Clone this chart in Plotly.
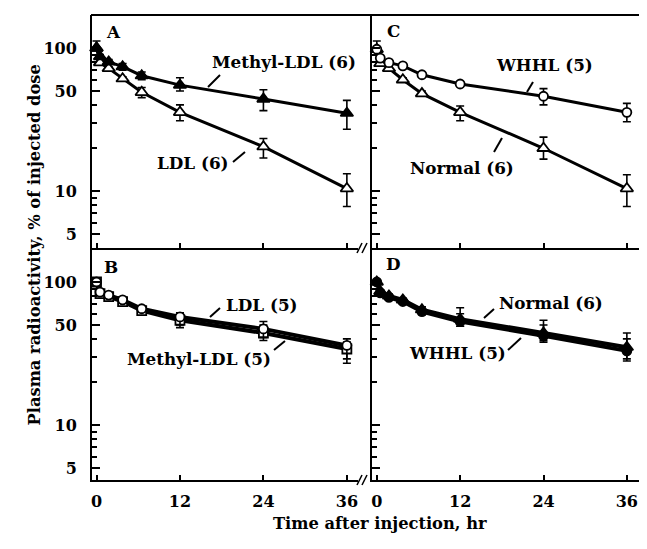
import plotly.graph_objects as go

# page body has an 8px margin; figure is shifted accordingly
OFF = 8
W, H = 647 - OFF, 549 - OFF

# ---- data ----
T = [0, 0.5, 1.75, 3.75, 6.5, 12, 24, 36]

a_methyl = [100, 87, 80, 74, 64, 55, 44, 35]
a_methyl_hi = [112, 90, 83, 78, 68, 62, 51, 43]
a_methyl_lo = [96, 84, 77, 70, 60, 50, 36.5, 27]
a_ldl = [100, 79, 72, 61, 49, 35.5, 20.4, 10.4]
a_ldl_hi = [100, 81, 74, 63, 53, 40, 23.3, 13.2]
a_ldl_lo = [100, 77, 70, 59, 45, 31, 17, 7.8]

b_ldl = [100, 85, 81, 75, 65, 57, 47, 36]
b_ldl_hi = [103, 87, 83, 77, 68, 61, 53, 40]
b_ldl_lo = [97, 83, 79, 73, 62, 50, 41, 29]
b_methyl = [100, 83, 79, 73, 63, 54, 44, 34]
b_methyl_hi = [100, 85, 81, 75, 66, 58, 50, 38]
b_methyl_lo = [100, 81, 77, 71, 60, 48, 39, 27]

c_whhl = [98, 85, 79, 75, 65, 56, 46, 35.5]
c_whhl_hi = [112, 87, 81, 77, 67, 58, 52, 41]
c_whhl_lo = [94, 83, 77, 73, 63, 54, 40, 30.5]
c_norm = [98, 78, 72, 60, 48, 35.5, 19.9, 10.4]
c_norm_hi = [98, 80, 74, 62, 50, 39.3, 23.8, 13]
c_norm_lo = [98, 76, 70, 58, 46, 31, 16.7, 7.8]

d_norm = [100, 86, 80, 75, 64, 55, 44, 35]
d_norm_hi = [103, 88, 82, 77, 67, 66, 54, 44]
d_norm_lo = [97, 84, 78, 73, 61, 49, 39, 28]
d_whhl = [100, 84, 78, 73, 62, 53, 42, 33]
d_whhl_hi = [100, 86, 80, 75, 65, 60, 50, 40]
d_whhl_lo = [100, 82, 76, 71, 59, 49, 38, 29]

x_ticks = [0, 12, 24, 36]
y_major = [5, 10, 50, 100]
y_minor = [6, 7, 8, 9, 20, 30, 40, 60, 70, 80, 90]

FONT = "DejaVu Serif"
FS = 16
FS_ANN = 16.8
FS_TITLE = 16.3


def px(x):
    return (x - OFF) / W


def py(y):
    return 1 - (y - OFF) / H


fig = go.Figure()


def add_series(xa, ya, vals, hi, lo, symbol, size, lw, fill):
    fig.add_trace(go.Scatter(
        x=T, y=vals, xaxis=xa, yaxis=ya, mode="lines+markers",
        line=dict(color="black", width=lw),
        marker=dict(symbol=symbol, size=size, color=fill,
                    line=dict(color="black", width=1.8)),
        error_y=dict(type="data", symmetric=False,
                     array=[h - v for h, v in zip(hi, vals)],
                     arrayminus=[v - l for l, v in zip(lo, vals)],
                     color="black", thickness=1.6, width=4),
        showlegend=False, cliponaxis=False))


# A
add_series("x", "y", a_ldl, a_ldl_hi, a_ldl_lo, "triangle-up", 11, 3, "white")
add_series("x", "y", a_methyl, a_methyl_hi, a_methyl_lo, "triangle-up", 11, 3, "black")
# B
add_series("x2", "y2", b_methyl, b_methyl_hi, b_methyl_lo, "square", 9, 4, "white")
add_series("x2", "y2", b_ldl, b_ldl_hi, b_ldl_lo, "circle", 9, 4, "white")
# C
add_series("x3", "y3", c_norm, c_norm_hi, c_norm_lo, "triangle-up", 11, 3, "white")
add_series("x3", "y3", c_whhl, c_whhl_hi, c_whhl_lo, "circle", 9, 3, "white")
# D
add_series("x4", "y4", d_whhl, d_whhl_hi, d_whhl_lo, "circle", 9, 4, "black")
add_series("x4", "y4", d_norm, d_norm_hi, d_norm_lo, "triangle-up", 11, 4, "black")

tickfont = dict(family=FONT, size=FS, color="black", weight="bold")


def xaxis(dom, anchor, rng, labels):
    return dict(domain=dom, anchor=anchor, range=rng, showline=True,
                linecolor="black", linewidth=2, ticks="inside", ticklen=5,
                tickwidth=1.5, tickcolor="black", tickmode="array",
                tickvals=x_ticks, ticktext=[str(v) for v in x_ticks],
                showticklabels=labels, tickfont=tickfont,
                ticklabelstandoff=6, showgrid=False, zeroline=False)


def yaxis(dom, anchor, rng, labels):
    return dict(domain=dom, anchor=anchor, type="log", range=rng,
                showline=True, linecolor="black", linewidth=2,
                ticks="inside", ticklen=8, tickwidth=1.5, tickcolor="black",
                tickmode="array", tickvals=y_major,
                ticktext=[str(v) for v in y_major], showticklabels=labels,
                tickfont=tickfont, ticklabelstandoff=10, showgrid=False,
                zeroline=False,
                minor=dict(ticks="inside", ticklen=5, tickwidth=1.5,
                           tickcolor="black", tickmode="array",
                           tickvals=y_minor, showgrid=False))


xA = [px(92), px(358)]
xC = [px(372), 1.0]
yTop = [py(248), py(15)]
yBot = [py(480), py(248)]
rA = [-0.65, 37.6]
rC = [-0.69, 38.9]

fig.update_layout(
    width=W, height=H, margin=dict(l=0, r=0, t=0, b=0),
    plot_bgcolor="white", paper_bgcolor="white",
    xaxis=xaxis(xA, "y", rA, False),
    yaxis=yaxis(yTop, "x", [0.6014, 2.2308], True),
    xaxis2=xaxis(xA, "y2", rA, True),
    yaxis2=yaxis(yBot, "x2", [0.6154, 2.2378], True),
    xaxis3=xaxis(xC, "y3", rC, False),
    yaxis3=yaxis(yTop, "x3", [0.6014, 2.2308], False),
    xaxis4=xaxis(xC, "y4", rC, True),
    yaxis4=yaxis(yBot, "x4", [0.6154, 2.2378], False),
)

shapes = []
# top frame line
shapes.append(dict(type="line", xref="paper", yref="paper", x0=px(91), x1=1.0,
                   y0=py(15), y1=py(15), line=dict(color="black", width=2)))
# break marks
for yb in (248, 480):
    for dx in (0, 5):
        shapes.append(dict(type="line", xref="paper", yref="paper",
                           x0=px(357 + dx), y0=py(yb + 5),
                           x1=px(362 + dx), y1=py(yb - 5),
                           line=dict(color="black", width=1.5)))
# pointer segments
pointers = [
    ((208, 87), (220, 75)),
    ((233, 162), (245, 152)),
    ((527, 92), (533, 82)),
    ((494, 152), (502, 138)),
    ((210, 317), (220, 308)),
    ((274, 350), (285, 341)),
    ((484, 318), (494, 309)),
    ((508, 350), (521, 338)),
]
for (x0, y0), (x1, y1) in pointers:
    shapes.append(dict(type="line", xref="paper", yref="paper",
                       x0=px(x0), y0=py(y0), x1=px(x1), y1=py(y1),
                       line=dict(color="black", width=2)))
fig.update_layout(shapes=shapes)

labels = [
    ("Methyl-LDL (6)", 284, 62),
    ("LDL (6)", 193, 163),
    ("WHHL (5)", 544, 65),
    ("Normal (6)", 462, 168),
    ("LDL (5)", 262, 305),
    ("Methyl-LDL (5)", 199, 359),
    ("Normal (6)", 551, 303),
    ("WHHL (5)", 458, 353),
    ("A", 113, 32),
    ("B", 111, 267),
    ("C", 393, 31),
    ("D", 393, 264),
]
ann = []
for text, x, y in labels:
    ann.append(dict(text="<b>%s</b>" % text, x=px(x), y=py(y), xref="paper",
                    yref="paper", showarrow=False, xanchor="center",
                    yanchor="middle",
                    font=dict(family=FONT, size=FS_ANN, color="black")))
ann.append(dict(text="<b>Time after injection, hr</b>", x=px(380), y=py(535),
                xref="paper", yref="paper", showarrow=False,
                font=dict(family=FONT, size=FS_TITLE, color="black")))
ann.append(dict(text="<b>Plasma radioactivity, % of injected dose</b>",
                x=px(22), y=py(245), xref="paper", yref="paper",
                showarrow=False, textangle=-90,
                font=dict(family=FONT, size=FS_TITLE, color="black")))
fig.update_layout(annotations=ann)

fig.write_html("out.html")
